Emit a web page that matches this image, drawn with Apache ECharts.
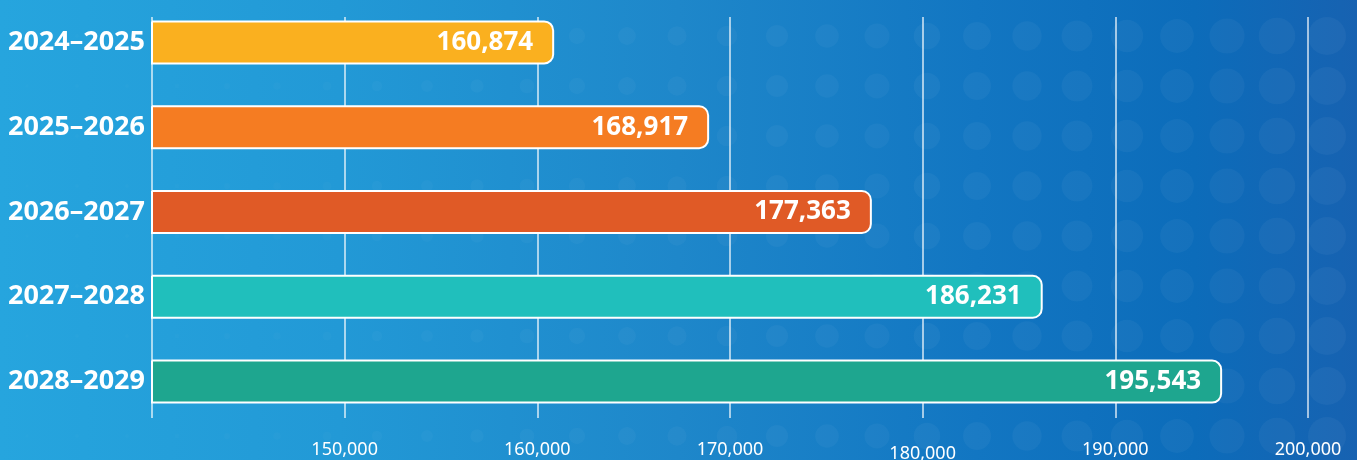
<!DOCTYPE html>
<html>
<head>
<meta charset="utf-8">
<script src="https://cdn.jsdelivr.net/npm/echarts@6/dist/echarts.min.js"></script>
<style>
  html, body { margin: 0; padding: 0; }
  #wrap { position: relative; width: 1357px; height: 460px; overflow: hidden;
    background: linear-gradient(90deg, #26a5de 0%, #2299d6 25%, #1e87ca 50%, #1276c2 72%, #0c6cba 88%, #1762b1 100%); }
  #bg { position: absolute; left: 0; top: 0; }
  #chart { position: absolute; left: 0; top: 0; width: 1357px; height: 460px; }
</style>
</head>
<body>
<div id="wrap">
  <canvas id="bg" width="1357" height="460"></canvas>
  <div id="chart"></div>
</div>
<script>
// ---- data ----
const categories = ['2024–2025', '2025–2026', '2026–2027', '2027–2028', '2028–2029'];
const values = [160874, 168917, 177363, 186231, 195543];
const axisMin = 140000;
const axisMax = 200000;
const axisStep = 10000;
// ---- palette ----
const barColors = ['#fab01f', '#f57c22', '#e05a26', '#20bfbc', '#1ea68f'];

// decorative dotted background
(function () {
  const c = document.getElementById('bg');
  const ctx = c.getContext('2d');
  for (let y = 36; y < 480; y += 50) {
    for (let x = 27; x < 1400; x += 50) {
      const r = 2 + Math.max(0, (x - 150) * 0.0145);
      const a = 0.012 + Math.min(1, x / 900) * 0.026;
      ctx.beginPath();
      ctx.arc(x, y, r, 0, Math.PI * 2);
      ctx.fillStyle = 'rgba(255,255,255,' + a.toFixed(3) + ')';
      ctx.fill();
    }
  }
})();

const fmt = v => v.toLocaleString('en-US');
const chart = echarts.init(document.getElementById('chart'), null, { renderer: 'canvas' });
const FONT = '"Noto Sans", "Open Sans", sans-serif';

chart.setOption({
  backgroundColor: 'transparent',
  animation: false,
  grid: [
    { left: 152, right: 49, top: 17, bottom: 42, outerBoundsMode: 'none', containLabel: false },
    { left: 152, right: 49, top: 0, bottom: 36, outerBoundsMode: 'none', containLabel: false }
  ],
  xAxis: [
    {
      gridIndex: 0, type: 'value', min: axisMin, max: axisMax, interval: axisStep,
      axisLine: { show: false }, axisTick: { show: false },
      splitLine: { show: true, showMinLine: true, showMaxLine: true,
        lineStyle: { color: 'rgba(255,255,255,0.62)', width: 2 } },
      axisLabel: {
        color: '#fff', fontSize: 18, fontFamily: FONT, margin: 23,
        showMinLabel: false,
        formatter: v => v === axisMin ? '' : (v === 180000 ? '{low|' + fmt(v) + '}' : fmt(v)),
        rich: { low: { color: '#fff', fontSize: 18, fontFamily: FONT, padding: [4, 0, 0, 0] } }
      }
    },
    { gridIndex: 1, type: 'value', min: axisMin, max: axisMax, interval: axisStep, show: false }
  ],
  yAxis: [
    { gridIndex: 0, type: 'category', data: categories, show: false },
    {
      gridIndex: 1, type: 'category', data: categories, inverse: true,
      axisLine: { show: false }, axisTick: { show: false }, splitLine: { show: false },
      axisLabel: { color: '#fff', fontSize: 27, fontWeight: 700, fontFamily: FONT, margin: 7 }
    }
  ],
  series: [{
    type: 'bar',
    xAxisIndex: 1, yAxisIndex: 1,
    barWidth: 44,
    data: values.map((v, i) => ({ value: v, itemStyle: { color: barColors[i] } })),
    itemStyle: { borderColor: '#fff', borderWidth: 2, borderRadius: [0, 9, 9, 0] },
    label: {
      show: true, position: 'insideRight', distance: 21,
      color: '#fff', fontSize: 26, fontWeight: 700, fontFamily: FONT,
      formatter: p => fmt(p.value)
    }
  }]
});
</script>
</body>
</html>
